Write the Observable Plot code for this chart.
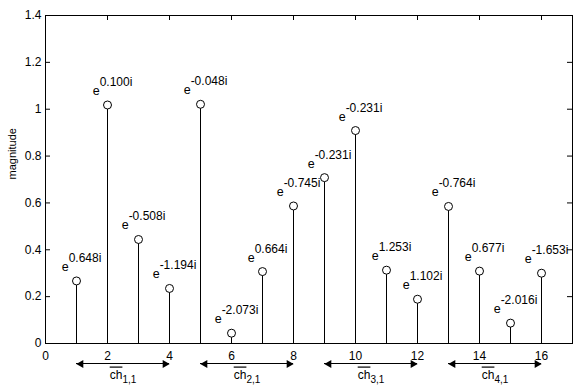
<!DOCTYPE html>
<html>
<head>
<meta charset="utf-8">
<script src="https://cdn.jsdelivr.net/npm/d3@7"></script>
<script src="https://cdn.jsdelivr.net/npm/@observablehq/plot@0.6"></script>
<style>
  html, body { margin: 0; padding: 0; background: white; }
</style>
</head>
<body>
<div id="chart"></div>
<script>
// ---- data ----
const indices = [1, 2, 3, 4, 5, 6, 7, 8, 9, 10, 11, 12, 13, 14, 15, 16];
const magnitudes = [0.267, 1.018, 0.444, 0.235, 1.021, 0.044, 0.307, 0.587, 0.708, 0.909, 0.313, 0.189, 0.585, 0.309, 0.087, 0.300];
const phases = [0.648, 0.100, -0.508, -1.194, -0.048, -2.073, 0.664, -0.745, -0.231, -0.231, 1.253, 1.102, -0.764, 0.677, -2.016, -1.653];
const groupStart = [1, 5, 9, 13];
const groupEnd = [4, 8, 12, 16];
const groupNames = ["1,1", "2,1", "3,1", "4,1"];
const xTicks = [0, 2, 4, 6, 8, 10, 12, 14, 16];
const yTicks = [0, 0.2, 0.4, 0.6, 0.8, 1, 1.2, 1.4];
const yLabel = "magnitude";

// ---- tables built from arrays ----
const points = indices.map((x, i) => ({x, v: magnitudes[i], p: phases[i]}));
const groups = groupStart.map((s, i) => ({start: s, end: groupEnd[i], mid: (s + groupEnd[i]) / 2, name: groupNames[i]}));

const width = 573, height = 385;
const mL = 45, mR = 1, mT = 15, mB = 42;
const plotW = width - mL - mR, plotH = height - mT - mB;
const tickLen = 5;

const chart = Plot.plot({
  width, height,
  marginLeft: mL, marginRight: mR, marginTop: mT, marginBottom: mB,
  x: {domain: [0, 17]},
  y: {domain: [0, 1.4]},
  style: {fontFamily: "'Liberation Sans', Arial, sans-serif", fontSize: "12px", background: "white", color: "black", overflow: "visible"},
  marks: [
    Plot.frame({stroke: "black"}),
    // inward ticks
    Plot.tickX(xTicks.slice(1), {x: d => d, insetTop: plotH - tickLen, stroke: "black"}),
    Plot.tickX(xTicks.slice(1), {x: d => d, insetBottom: plotH - tickLen, stroke: "black"}),
    Plot.tickY(yTicks.slice(1, -1), {y: d => d, insetRight: plotW - tickLen, stroke: "black"}),
    Plot.tickY(yTicks.slice(1, -1), {y: d => d, insetLeft: plotW - tickLen, stroke: "black"}),
    Plot.axisX(xTicks, {tickSize: 0, tickPadding: 8, label: null, tickFormat: d => String(d)}),
    Plot.axisY(yTicks, {tickSize: 0, tickPadding: 4, label: null, tickFormat: d => String(d)}),
    // stems
    Plot.ruleX(points, {x: "x", y1: d => 0, y2: "v", stroke: "black", strokeWidth: 1}),
    Plot.dot(points, {x: "x", y: "v", r: 4, stroke: "black", fill: "white", strokeWidth: 1}),
    // phase labels
    Plot.text(points, {x: "x", y: "v", text: d => "e|" + d.p.toFixed(3) + "i", dx: 5, dy: -10, lineAnchor: "bottom", textAnchor: "middle", fill: "black", fontSize: 12.5}),
    // channel arrows
    Plot.ruleY(groups, {y: d => 0, x1: "start", x2: "end", dy: 20, stroke: "black"}),
    Plot.dot(groups, {x: "end", y: d => 0, dy: 20.5, dx: -4.5, symbol: "triangle", rotate: 90, r: 3, fill: "black", stroke: "none"}),
    Plot.dot(groups, {x: "start", y: d => 0, dy: 20.5, dx: 4.5, symbol: "triangle", rotate: -90, r: 3, fill: "black", stroke: "none"}),
    Plot.text(groups, {x: "mid", y: d => 0, dy: 35, text: d => "ch|" + d.name, lineAnchor: "bottom", textAnchor: "middle", fill: "black"}),
    // y label
    Plot.text([yLabel], {frameAnchor: "left", dx: -33, rotate: -90, text: d => d, fontSize: 11, fill: "black"})
  ]
});

// superscripts / subscripts / overline
chart.querySelectorAll("text").forEach(t => {
  const s = t.textContent;
  if (s.startsWith("e|")) {
    const exp = s.slice(2);
    t.textContent = "";
    const a = document.createElementNS("http://www.w3.org/2000/svg", "tspan");
    a.textContent = "e";
    const b = document.createElementNS("http://www.w3.org/2000/svg", "tspan");
    b.textContent = exp;
    b.setAttribute("dy", "-9");
    b.setAttribute("font-size", "12");
    t.appendChild(a); t.appendChild(b);
  } else if (s.startsWith("ch|")) {
    const sub = s.slice(3);
    t.textContent = "";
    const a = document.createElementNS("http://www.w3.org/2000/svg", "tspan");
    a.textContent = "ch";
    a.setAttribute("text-decoration", "overline");
    a.style.textDecoration = "overline";
    const b = document.createElementNS("http://www.w3.org/2000/svg", "tspan");
    b.textContent = sub;
    b.setAttribute("dy", "4");
    b.setAttribute("font-size", "10");
    t.appendChild(a); t.appendChild(b);
  }
});

document.getElementById("chart").appendChild(chart);
</script>
</body>
</html>
